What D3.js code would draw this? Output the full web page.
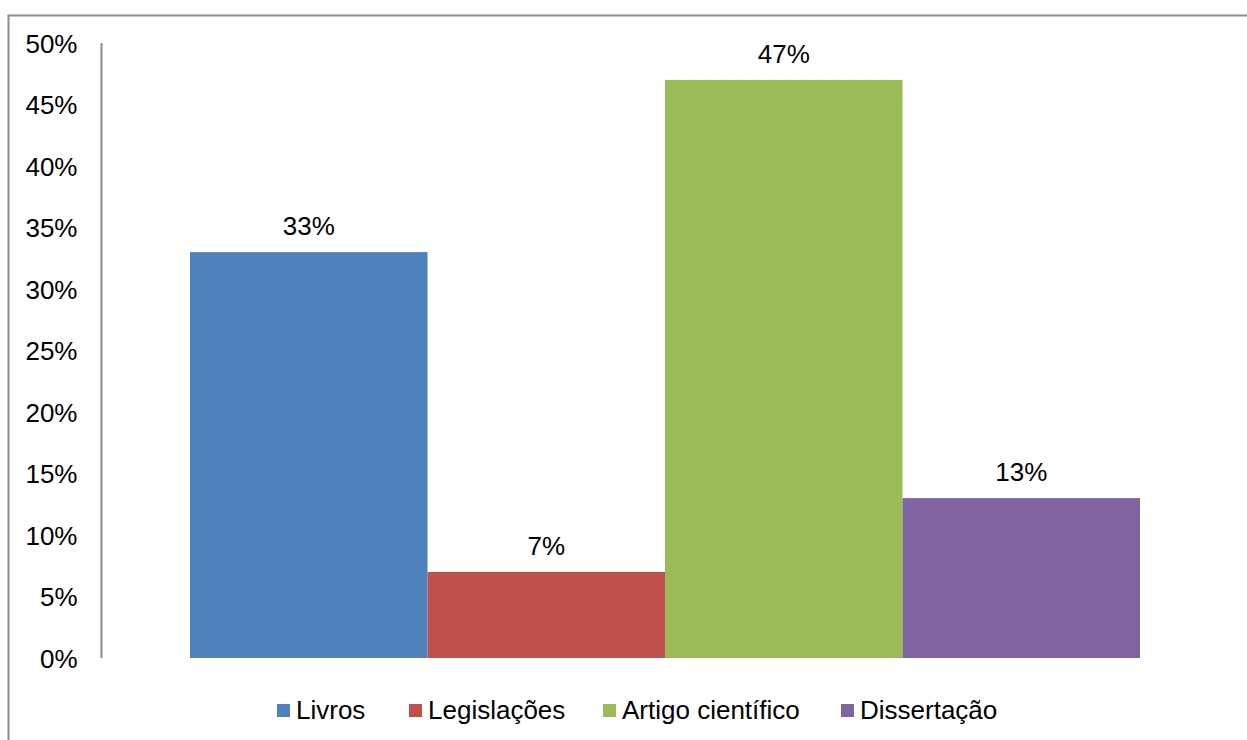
<!DOCTYPE html>
<html><head><meta charset="utf-8">
<script src="https://cdn.jsdelivr.net/npm/d3@7"></script>
<style>body{margin:0;background:#fff}svg{display:block;font-family:"Liberation Sans",Arial,sans-serif}</style>
</head><body>
<svg id="c" width="1247" height="740"></svg>
<script>
const categories = ["Livros","Legislações","Artigo científico","Dissertação"];
const values = [0.33, 0.07, 0.47, 0.13];
const colors = ["#4F81BD","#C0504D","#9BBB59","#8064A2"];
const tickValues = [0,0.05,0.10,0.15,0.20,0.25,0.30,0.35,0.40,0.45,0.50];

const svg = d3.select("#c");
// outer frame
svg.append("path").attr("d","M8.5,740 V15.5 H1247").attr("fill","none").attr("stroke","#8c8c8c").attr("stroke-width",2);

const y = d3.scaleLinear().domain([0,0.5]).range([658,43]);
const x = d3.scaleBand().domain(categories).range([190,1140]).padding(0);

const yAxis = d3.axisLeft(y).tickValues(tickValues).tickSize(0).tickPadding(24).tickFormat(d3.format(".0%"));
const ga = svg.append("g").attr("transform","translate(101.5,0)").call(yAxis);
ga.select(".domain").attr("stroke","#8c8c8c").attr("stroke-width",2).attr("d","M0,43V658");
ga.selectAll("text").attr("font-size",26).attr("fill","#000").attr("font-family","Liberation Sans, Arial, sans-serif").attr("dy","0.35em");

svg.selectAll("rect.bar").data(categories).enter().append("rect").attr("class","bar")
  .attr("x",d=>x(d)).attr("width",x.bandwidth())
  .attr("y",(d,i)=>y(values[i])).attr("height",(d,i)=>y(0)-y(values[i]))
  .attr("fill",(d,i)=>colors[i]);

svg.selectAll("text.lbl").data(categories).enter().append("text").attr("class","lbl")
  .attr("x",d=>x(d)+x.bandwidth()/2).attr("y",(d,i)=>y(values[i])-17)
  .attr("text-anchor","middle").attr("font-size",26).attr("fill","#000")
  .text((d,i)=>d3.format(".0%")(values[i]));

// legend
const legX = [277, 409, 603, 841];
const lg = svg.append("g");
categories.forEach((c,i)=>{
  lg.append("rect").attr("x",legX[i]).attr("y",704).attr("width",13).attr("height",13).attr("fill",colors[i]);
  lg.append("text").attr("x",legX[i]+19).attr("y",719).attr("font-size",26).attr("fill","#000").text(c);
});
</script>
</body></html>
